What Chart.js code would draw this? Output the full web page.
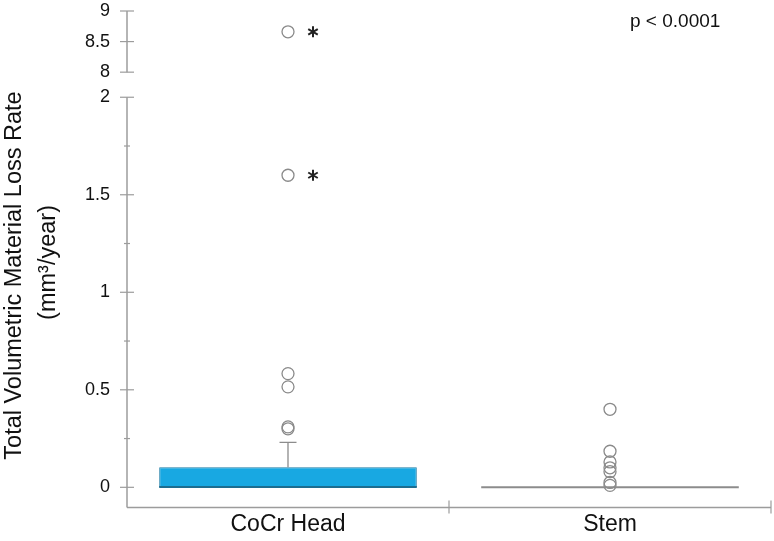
<!DOCTYPE html>
<html>
<head>
<meta charset="utf-8">
<script src="https://cdn.jsdelivr.net/npm/chart.js@4"></script>
<style>
  html, body { margin: 0; padding: 0; background: #fff; overflow: hidden; }
  canvas { display: block; }
</style>
</head>
<body>
<canvas id="lossChart" width="774" height="541"></canvas>
<script>
// categories and box statistics (mm3/year)
const categories = ['CoCr Head', 'Stem'];
const boxLow = [0, 0];
const boxHigh = [0.103, 0];
const medians = [0.001, 0];
const whiskerHigh = [0.23, 0];

// outliers, lower part of the axis (0 - 2) and upper part (8 - 9)
const outliersCoCr = [0.30, 0.31, 0.515, 0.583, 1.6];
const outliersStem = [0.01, 0.025, 0.08, 0.10, 0.13, 0.185, 0.40];
const outliersCoCrHigh = [8.66];

// outliers marked with an asterisk
const flaggedLow = [1.6];
const flaggedHigh = [8.66];

// tick labels
const lowTicks = [0, 0.5, 1, 1.5, 2];
const lowMinorTicks = [0.25, 0.75, 1.25, 1.75];
const highTicks = [8, 8.5, 9];

const pText = 'p < 0.0001';

Chart.defaults.font.family = '"Liberation Sans", Arial, sans-serif';
Chart.defaults.color = '#111';

const AXIS_COLOR = '#9c9c9c';
const POINT_COLOR = '#8a8a8a';
const medianColors = ['#1c6d90', '#8c8c8c'];

// axis lines and tick marks for the broken y axis and the x axis
const axisDecor = {
  id: 'axisDecor',
  beforeDatasetsDraw(chart) {
    const { ctx, chartArea } = chart;
    const x = chart.scales.x;
    const yLow = chart.scales.yLow;
    const yHigh = chart.scales.yHigh;
    const ax = chartArea.left;
    ctx.save();
    ctx.strokeStyle = AXIS_COLOR;
    ctx.lineWidth = 1.5;

    // lower segment: from the top tick down to the x axis
    ctx.beginPath();
    ctx.moveTo(ax, yLow.getPixelForValue(lowTicks[lowTicks.length - 1]));
    ctx.lineTo(ax, chartArea.bottom);
    ctx.stroke();
    // upper segment
    ctx.beginPath();
    ctx.moveTo(ax, yHigh.getPixelForValue(highTicks[highTicks.length - 1]));
    ctx.lineTo(ax, yHigh.getPixelForValue(highTicks[0]));
    ctx.stroke();

    ctx.lineWidth = 1.2;
    const tick = (py, len) => {
      ctx.beginPath();
      ctx.moveTo(ax - len, py);
      ctx.lineTo(ax + len, py);
      ctx.stroke();
    };
    lowTicks.forEach(v => tick(yLow.getPixelForValue(v), 7));
    lowMinorTicks.forEach(v => tick(yLow.getPixelForValue(v), 3));
    highTicks.forEach(v => tick(yHigh.getPixelForValue(v), 7));

    // x axis
    ctx.lineWidth = 1.5;
    ctx.beginPath();
    ctx.moveTo(chartArea.left, chartArea.bottom);
    ctx.lineTo(chartArea.right, chartArea.bottom);
    ctx.stroke();
    ctx.lineWidth = 1.2;
    categories.forEach((c, i) => {
      const px = x.getPixelForValue(i + 0.5);
      ctx.beginPath();
      ctx.moveTo(px, chartArea.bottom - 7);
      ctx.lineTo(px, chartArea.bottom + 6);
      ctx.stroke();
    });
    ctx.restore();
  }
};

// whiskers, medians, asterisks and the p value
const boxExtras = {
  id: 'boxExtras',
  afterDatasetsDraw(chart) {
    const { ctx, chartArea } = chart;
    const x = chart.scales.x;
    const y = chart.scales.yLow;
    const bars = chart.getDatasetMeta(0).data;
    ctx.save();
    categories.forEach((c, i) => {
      const cx = x.getPixelForValue(i);
      const half = bars[i].width / 2;
      if (whiskerHigh[i] > boxHigh[i]) {
        const top = y.getPixelForValue(whiskerHigh[i]);
        ctx.strokeStyle = '#8c8c8c';
        ctx.lineWidth = 1.3;
        ctx.beginPath();
        ctx.moveTo(cx, y.getPixelForValue(boxHigh[i]));
        ctx.lineTo(cx, top);
        ctx.moveTo(cx - 8.5, top);
        ctx.lineTo(cx + 8.5, top);
        ctx.stroke();
      }
      const my = y.getPixelForValue(medians[i]);
      ctx.strokeStyle = medianColors[i];
      ctx.lineWidth = 2;
      ctx.beginPath();
      ctx.moveTo(cx - half, my);
      ctx.lineTo(cx + half, my);
      ctx.stroke();
    });

    const star = (px, py) => {
      ctx.strokeStyle = '#222';
      ctx.lineWidth = 2;
      ctx.beginPath();
      for (let k = 0; k < 3; k++) {
        const a = Math.PI / 2 + k * Math.PI / 3;
        ctx.moveTo(px - 5.5 * Math.cos(a), py - 5.5 * Math.sin(a));
        ctx.lineTo(px + 5.5 * Math.cos(a), py + 5.5 * Math.sin(a));
      }
      ctx.stroke();
    };
    const cx0 = x.getPixelForValue(0) + 25;
    flaggedLow.forEach(v => star(cx0, y.getPixelForValue(v)));
    flaggedHigh.forEach(v => star(cx0, chart.scales.yHigh.getPixelForValue(v)));

    ctx.fillStyle = '#111';
    ctx.font = '19px "Liberation Sans", Arial, sans-serif';
    ctx.textAlign = 'left';
    ctx.textBaseline = 'alphabetic';
    ctx.fillText(pText, chartArea.right - 141, 27);
    ctx.restore();
  }
};

const pointStyle = {
  type: 'line',
  showLine: false,
  pointRadius: 6,
  pointHoverRadius: 6,
  pointBorderWidth: 1.3,
  pointBorderColor: POINT_COLOR,
  pointBackgroundColor: 'rgba(0,0,0,0)'
};

// drop the label overhang padding so the plot area follows layout.padding
const noPad = s => { s.paddingTop = 0; s.paddingBottom = 0; s.paddingLeft = 0; s.paddingRight = 0; };

const ctx = document.getElementById('lossChart').getContext('2d');
const lossChart = new Chart(ctx, {
  type: 'bar',
  data: {
    labels: categories,
    datasets: [
      {
        label: 'box',
        data: categories.map((c, i) => [boxLow[i], boxHigh[i]]),
        backgroundColor: '#18a8e2',
        borderColor: '#1b7ca6',
        borderWidth: 1,
        borderSkipped: false,
        barPercentage: 0.8,
        categoryPercentage: 1,
        yAxisID: 'yLow'
      },
      Object.assign({
        label: 'outliers',
        data: outliersCoCr.map(v => ({ x: categories[0], y: v }))
          .concat(outliersStem.map(v => ({ x: categories[1], y: v }))),
        yAxisID: 'yLow'
      }, pointStyle),
      Object.assign({
        label: 'outliers high',
        data: outliersCoCrHigh.map(v => ({ x: categories[0], y: v })),
        yAxisID: 'yHigh'
      }, pointStyle)
    ]
  },
  options: {
    responsive: false,
    animation: false,
    layout: { autoPadding: false, padding: { top: 11, right: 3, bottom: 0, left: 0 } },
    plugins: {
      legend: { display: false },
      tooltip: { enabled: false }
    },
    scales: {
      x: {
        offset: true,
        grid: { display: false, drawTicks: false },
        border: { display: false },
        ticks: { font: { size: 23 }, color: '#111', padding: 3 },
        afterFit: noPad
      },
      yLow: {
        type: 'linear',
        position: 'left',
        stack: 'yaxis',
        stackWeight: 409,
        weight: 1,
        min: -0.103,
        max: 2,
        grid: { display: false, drawTicks: false },
        border: { display: false },
        ticks: { font: { size: 18 }, color: '#111', padding: 17, autoSkip: false, callback: v => String(v) },
        afterBuildTicks: s => { s.ticks = lowTicks.map(v => ({ value: v })); },
        afterFit: s => { s.width = 46; noPad(s); }
      },
      yHigh: {
        type: 'linear',
        position: 'left',
        stack: 'yaxis',
        stackWeight: 86,
        weight: 1,
        min: 7.59,
        max: 9,
        grid: { display: false, drawTicks: false },
        border: { display: false },
        ticks: { font: { size: 18 }, color: '#111', padding: 17, autoSkip: false, callback: v => String(v) },
        afterBuildTicks: s => { s.ticks = highTicks.map(v => ({ value: v })); },
        afterFit: s => { s.width = 46; noPad(s); }
      },
      yTitle: {
        type: 'linear',
        position: 'left',
        weight: 5,
        grid: { display: false, drawTicks: false },
        border: { display: false },
        ticks: { display: false },
        title: {
          display: true,
          text: ['Total Volumetric Material Loss Rate     ', '(mm³/year) '],
          font: { size: 23.5, lineHeight: 1.45 },
          color: '#111',
          padding: { top: -3, bottom: 0 }
        },
        afterFit: s => { s.width = 81; noPad(s); }
      }
    }
  },
  plugins: [axisDecor, boxExtras]
});
</script>
</body>
</html>
